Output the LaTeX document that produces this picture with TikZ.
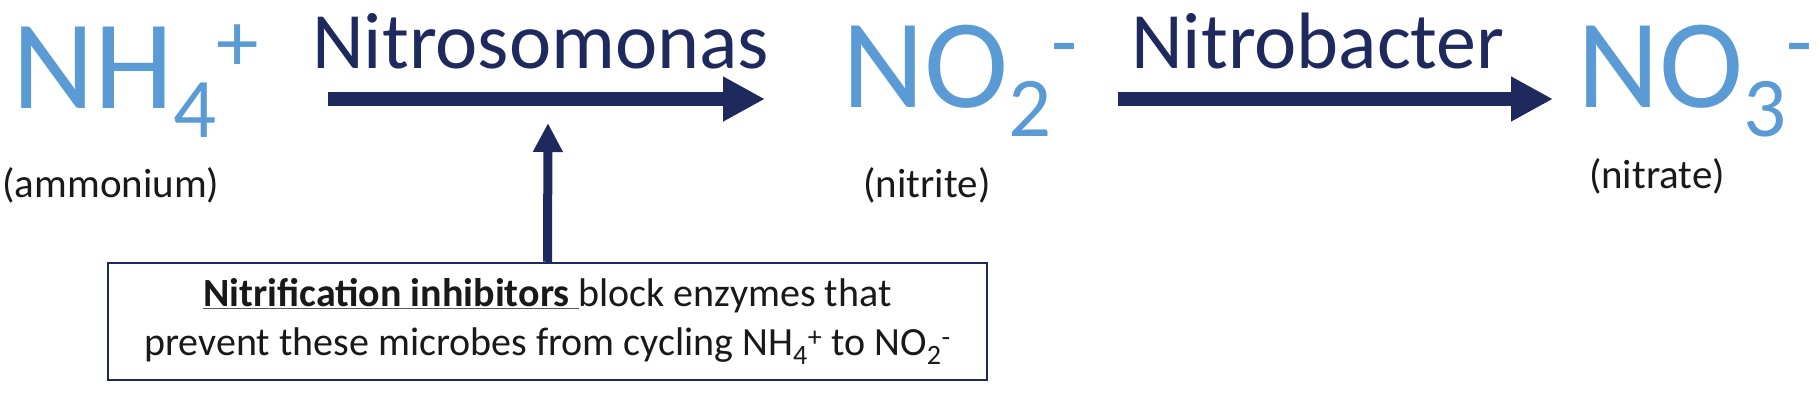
\documentclass[tikz,border=0pt]{standalone}
\usepackage{fontspec}
\setmainfont{Carlito}
\usetikzlibrary{arrows.meta}
\definecolor{ionblue}{RGB}{91,155,213}
\definecolor{navy}{RGB}{30,42,94}
\definecolor{ink}{RGB}{25,25,25}
\definecolor{rulegray}{RGB}{90,90,90}
\newcommand{\ionsub}[1]{\raisebox{-29pt}{\fontsize{85}{85}\selectfont #1}}
\newcommand{\ionsup}[1]{\raisebox{37pt}{\fontsize{85}{85}\selectfont #1}}

\begin{document}
\begin{tikzpicture}[x=1pt,y=-1pt,
    ion/.style={anchor=base west,inner sep=0pt,text=ionblue,font=\fontsize{127}{130}\selectfont},
    microbe/.style={anchor=base west,inner sep=0pt,text=navy,font=\fontsize{80}{90}\selectfont},
    ionname/.style={anchor=base,inner sep=0pt,text=ink,font=\fontsize{41}{49}\selectfont},
    reaction/.style={line width=14pt,draw=navy,-{Triangle[length=42pt,width=42pt]}},
    inhibit/.style={line width=9pt,draw=navy,-{Triangle[length=29pt,width=28pt]}},
    inhibbox/.style={draw=navy,line width=2.5pt,fill=white,text=ink,minimum width=879pt,
        minimum height=117pt,inner sep=0pt,align=center,font=\fontsize{40}{49}\selectfont}]
    \useasboundingbox (0,0) rectangle (1818,400);
    % Ions
    \node[ion] (nh4) at (12,108) {NH\ionsub{4}\ionsup{+}};
    \node[ion] (no2) at (842,107) {NO\ionsub{2}\ionsup{-}};
    \node[ion] (no3) at (1577,107) {NO\ionsub{3}\ionsup{-}};
    % Names below the ions
    \node[ionname] (ammonium) at (111,197) {(ammonium)};
    \node[ionname] (nitrite) at (927,197) {(nitrite)};
    \node[ionname] (nitrate) at (1657,188) {(nitrate)};
    % Microbes over the arrows
    \node[microbe] (nitroso) at (312,68) {Nitrosomonas};
    \node[microbe] (nitrobac) at (1131,68) {Nitrobacter};
    % Reaction arrows
    \draw[reaction] ([xshift=69pt,yshift=9pt]nh4.base east) -- ([xshift=-77pt,yshift=8pt]no2.base west);
    \draw[reaction] ([xshift=40pt,yshift=8pt]no2.base east) -- ([xshift=-24pt,yshift=8pt]no3.base west);
    % Inhibitor box and its arrow
    \node[inhibbox] (box) at (547.5,321.5) {{\color{rulegray}\underline{\color{ink}\textbf{Nitrification inhibitors}\ }}block enzymes that\\
        prevent these microbes from cycling NH\textsubscript{4}\textsuperscript{+} to NO\textsubscript{2}\textsuperscript{-}};
    \coordinate (block) at (548,123);
    \draw[inhibit] (box.north) -- (block);
\end{tikzpicture}
\end{document}
